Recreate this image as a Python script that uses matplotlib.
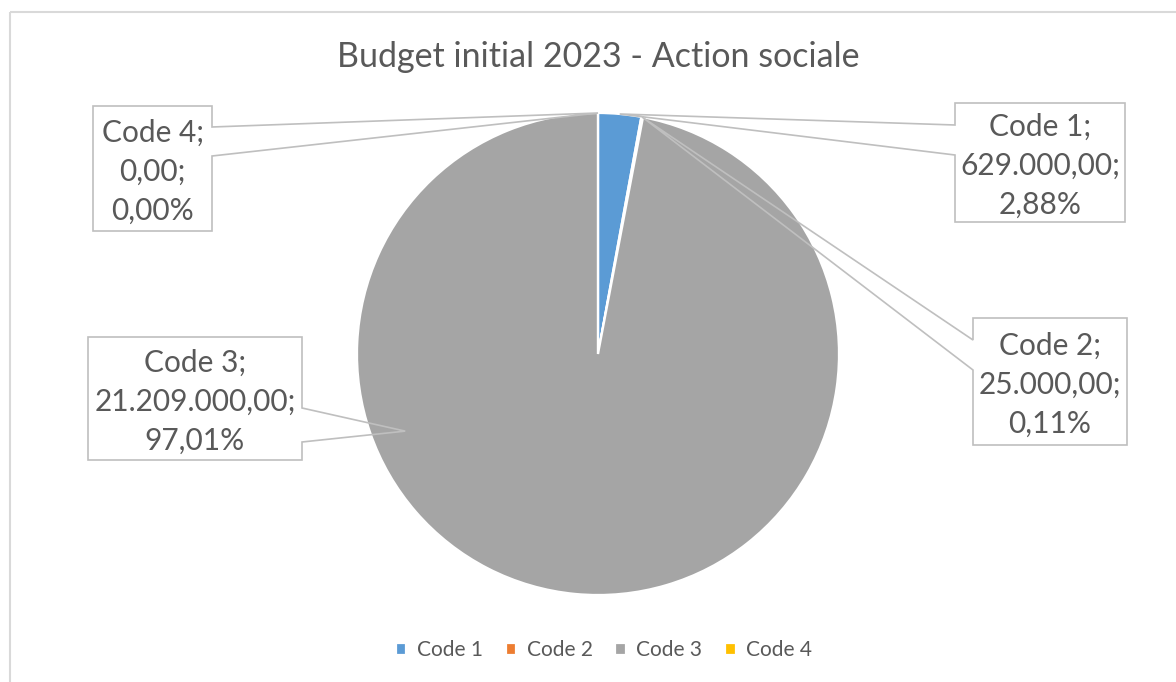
import matplotlib
matplotlib.use("Agg")
import matplotlib.pyplot as plt
from matplotlib.patches import Polygon, Rectangle
import numpy as np

plt.rcParams["font.family"] = ["Lato", "DejaVu Sans"]

# budget lines
codes = ["Code 1", "Code 2", "Code 3", "Code 4"]
amounts = [629000.00, 25000.00, 21209000.00, 0.00]
colors = ["#5B9BD5", "#ED7D31", "#A5A5A5", "#FFC000"]

TEXT = "#595959"
EDGE = "#BFBFBF"
W, H = 1176, 682
CX, CY, R = 598, 354, 241


def fr_number(v):
    s = f"{v:,.2f}"
    return s.replace(",", " ").replace(".", ",").replace(" ", ".")


def fr_pct(p):
    return f"{p:.2f}".replace(".", ",") + "%"


# callout boxes: (x0, y0, x1, y1), pointer side, pointer base y-range
callouts = {
    "Code 1": ((955, 103, 1125, 222), "left", (125, 155)),
    "Code 2": ((973, 318, 1127, 445), "left", (340, 370)),
    "Code 3": ((88, 337, 302, 460), "right", (408, 442)),
    "Code 4": ((93, 106, 212, 231), "right", (127, 156)),
}

fig = plt.figure(figsize=(W / 100, H / 100), dpi=100)
ax = fig.add_axes([0, 0, 1, 1])

# chart area border
ax.add_patch(Rectangle((10, 12), W + 20, H + 20, fill=False,
                       edgecolor="#D9D9D9", linewidth=1.5, zorder=0))

wedges, _ = ax.pie(amounts, colors=colors, startangle=-90, counterclock=True,
                   center=(CX, CY), radius=R, frame=True,
                   wedgeprops=dict(edgecolor="white", linewidth=1.6))
ax.set_xlim(0, W)
ax.set_ylim(H, 0)
ax.set_aspect("equal")
ax.axis("off")

total = sum(amounts)
for w, code, val in zip(wedges, codes, amounts):
    (x0, y0, x1, y1), side, (b0, b1) = callouts[code]
    mid = np.deg2rad((w.theta1 + w.theta2) / 2)
    if code == "Code 3":
        # anchor sits inside the large slice, left of centre
        tip = (CX - 0.80 * R, CY + 0.32 * R)
    else:
        tip = (CX + R * np.cos(mid), CY + R * np.sin(mid))
    if side == "right":
        pts = [(x0, y0), (x1, y0), (x1, b0), tip, (x1, b1), (x1, y1), (x0, y1)]
    else:
        pts = [(x0, y0), (x1, y0), (x1, y1), (x0, y1), (x0, b1), tip, (x0, b0)]
    ax.add_patch(Polygon(pts, closed=True, fill=False, edgecolor=EDGE,
                         linewidth=1.2, zorder=5))
    ax.add_patch(Rectangle((x0, y0), x1 - x0, y1 - y0, facecolor="white",
                           edgecolor="none", zorder=4))
    label = f"{code};\n{fr_number(val)};\n{fr_pct(val / total * 100)}"
    ax.text((x0 + x1) / 2, (y0 + y1) / 2 + 3, label, ha="center", va="center",
            fontsize=21.5, color=TEXT, linespacing=1.48, zorder=6)

ax.text(CX, 57, "Budget initial 2023 - Action sociale", ha="center",
        va="center", fontsize=24.5, color=TEXT)

ax.legend(wedges, codes, loc="center", bbox_to_anchor=((CX + 6) / W, (H - 650) / H),
          ncol=4, frameon=False, fontsize=15, labelcolor=TEXT,
          handlelength=0.5, handleheight=0.5, handletextpad=0.5,
          columnspacing=1.1)

fig.savefig("out.png", dpi=100, facecolor="white")
